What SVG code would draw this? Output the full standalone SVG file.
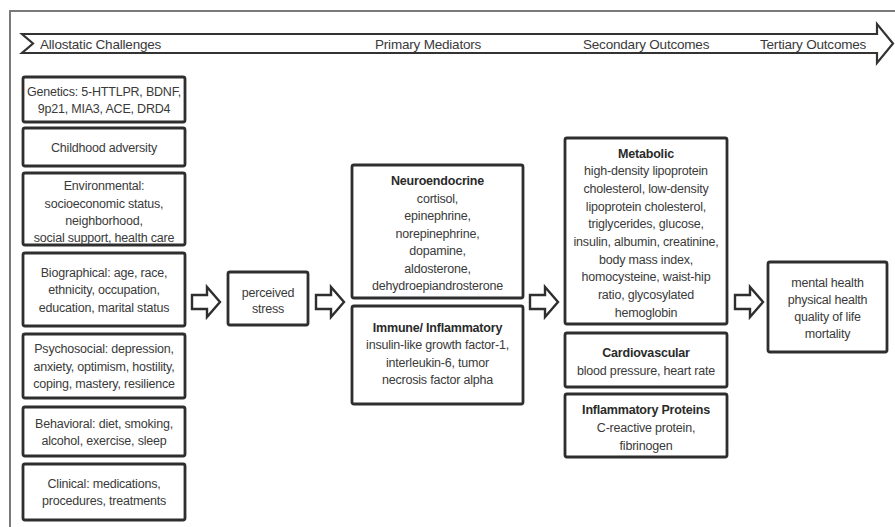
<svg xmlns="http://www.w3.org/2000/svg" width="895" height="527" viewBox="0 0 895 527">
<style>
.frame{fill:none;stroke:#7a7a7a;stroke-width:2}
.band{fill:#fff;stroke:#333;stroke-width:2.2;stroke-linejoin:miter}
.box{fill:#fff;stroke:#2e2e2e;stroke-width:2.8}
.arr{fill:#fff;stroke:#2e2e2e;stroke-width:2.4;stroke-linejoin:miter}
text{font-family:"Liberation Sans",Arial,sans-serif;font-size:12.5px;fill:#3a3a3a;text-anchor:middle;letter-spacing:-0.2px}
.h{font-weight:bold;fill:#2a2a2a}
.bt{font-size:13.5px;text-anchor:start;letter-spacing:-0.2px}
</style>
<rect width="895" height="527" fill="#fff"/>
<g id="frame">
<path class="frame" d="M10,527 V11 H895"/>
</g>
<g id="timeline">
<path class="band" d="M22,34 H877 V24 L893,43.5 L877,63 V53 H22 L33,43.5 Z"/>
<text class="bt" x="40" y="48.5">Allostatic Challenges</text>
<text class="bt" x="375" y="48.5">Primary Mediators</text>
<text class="bt" x="583" y="48.5">Secondary Outcomes</text>
<text class="bt" x="760" y="48.5">Tertiary Outcomes</text>
</g>
<g id="genetics"><rect class="box" x="23" y="77" width="162" height="45" rx="2"/>
<text x="104" y="95.5">Genetics: 5-HTTLPR, BDNF,</text><text x="104" y="113">9p21, MIA3, ACE, DRD4</text></g>
<g id="childhood"><rect class="box" x="23" y="128" width="162" height="38" rx="2"/>
<text x="104" y="151.5">Childhood adversity</text></g>
<g id="environmental"><rect class="box" x="23" y="173" width="162" height="72" rx="2"/>
<text x="104" y="190">Environmental:</text><text x="104" y="207.5">socioeconomic status,</text><text x="104" y="225">neighborhood,</text><text x="104" y="242">social support, health care</text></g>
<g id="biographical"><rect class="box" x="23" y="253" width="162" height="73" rx="2"/>
<text x="104" y="276.5">Biographical: age, race,</text><text x="104" y="294">ethnicity, occupation,</text><text x="104" y="311.5">education, marital status</text></g>
<g id="psychosocial"><rect class="box" x="23" y="334" width="162" height="64" rx="2"/>
<text x="104" y="353">Psychosocial: depression,</text><text x="104" y="370.5">anxiety, optimism, hostility,</text><text x="104" y="388">coping, mastery, resilience</text></g>
<g id="behavioral"><rect class="box" x="23" y="407" width="162" height="49" rx="2"/>
<text x="104" y="427.5">Behavioral: diet, smoking,</text><text x="104" y="445">alcohol, exercise, sleep</text></g>
<g id="clinical"><rect class="box" x="23" y="464" width="162" height="56" rx="2"/>
<text x="104" y="487.5">Clinical: medications,</text><text x="104" y="505">procedures, treatments</text></g>
<g id="perceived-stress"><rect class="box" x="228" y="272" width="80" height="53" rx="2"/>
<text x="268" y="296.5">perceived</text><text x="268" y="312.5">stress</text></g>
<g id="neuroendocrine"><rect class="box" x="352" y="165" width="171" height="133" rx="2"/>
<text class="h" x="437.5" y="184.5">Neuroendocrine</text>
<text x="437.5" y="202.5">cortisol,</text><text x="437.5" y="220">epinephrine,</text><text x="437.5" y="237.5">norepinephrine,</text><text x="437.5" y="255">dopamine,</text><text x="437.5" y="272.5">aldosterone,</text><text x="437.5" y="290">dehydroepiandrosterone</text></g>
<g id="immune"><rect class="box" x="352" y="306" width="171" height="98" rx="2"/>
<text class="h" x="437.5" y="331.5">Immune/ Inflammatory</text>
<text x="437.5" y="349">insulin-like growth factor-1,</text><text x="437.5" y="366.5">interleukin-6, tumor</text><text x="437.5" y="384">necrosis factor alpha</text></g>
<g id="metabolic"><rect class="box" x="565" y="138" width="162" height="186" rx="2"/>
<text class="h" x="646" y="157.5">Metabolic</text>
<text x="646" y="175.2">high-density lipoprotein</text><text x="646" y="192.9">cholesterol, low-density</text><text x="646" y="210.6">lipoprotein cholesterol,</text><text x="646" y="228.3">triglycerides, glucose,</text><text x="646" y="246">insulin, albumin, creatinine,</text><text x="646" y="263.7">body mass index,</text><text x="646" y="281.4">homocysteine, waist-hip</text><text x="646" y="299.1">ratio, glycosylated</text><text x="646" y="316.8">hemoglobin</text></g>
<g id="cardiovascular"><rect class="box" x="565" y="333" width="162" height="54" rx="2"/>
<text class="h" x="646" y="356.5">Cardiovascular</text><text x="646" y="374.5">blood pressure, heart rate</text></g>
<g id="inflammatory-proteins"><rect class="box" x="565" y="394" width="162" height="63" rx="2"/>
<text class="h" x="646" y="413.5">Inflammatory Proteins</text><text x="646" y="431.5">C-reactive protein,</text><text x="646" y="449.5">fibrinogen</text></g>
<g id="tertiary"><rect class="box" x="768" y="262" width="119" height="90" rx="2"/>
<text x="827.5" y="286.5">mental health</text><text x="827.5" y="303.5">physical health</text><text x="827.5" y="320.5">quality of life</text><text x="827.5" y="337.5">mortality</text></g>
<g id="connectors">
<path class="arr" d="M192,295 H207 V287 L220,302 L207,317 V309 H192 Z"/>
<path class="arr" d="M316,295 H331 V287 L344,302 L331,317 V309 H316 Z"/>
<path class="arr" d="M530,295 H545 V287 L558,302 L545,317 V309 H530 Z"/>
<path class="arr" d="M735,295 H750 V287 L763,302 L750,317 V309 H735 Z"/>
</g>
</svg>
